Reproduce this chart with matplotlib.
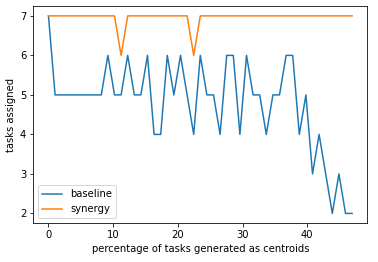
import numpy as np
import matplotlib
matplotlib.use("Agg")
import matplotlib.pyplot as plt

# x positions: percentage of tasks generated as centroids
pct = np.arange(47) * 100 / 98

baseline = [7, 5, 5, 5, 5, 5, 5, 5, 5, 6, 5, 5, 6, 5, 5, 6, 4, 4, 6, 5,
            6, 5, 4, 6, 5, 5, 4, 6, 6, 4, 6, 5, 5, 4, 5, 5, 6, 6, 4, 5,
            3, 4, 3, 2, 3, 2, 2]
synergy = [7, 7, 7, 7, 7, 7, 7, 7, 7, 7, 7, 6, 7, 7, 7, 7, 7, 7, 7, 7,
           7, 7, 6, 7, 7, 7, 7, 7, 7, 7, 7, 7, 7, 7, 7, 7, 7, 7, 7, 7,
           7, 7, 7, 7, 7, 7, 7]

fig = plt.figure(figsize=(378 / 72, 262 / 72), dpi=72)
ax = fig.add_axes([33.3 / 378, (262 - 223.3) / 262, (367.3 - 33.3) / 378, (223.3 - 6) / 262])
ax.plot(pct, baseline, label="baseline")
ax.plot(pct, synergy, label="synergy")
ax.set_xlabel("percentage of tasks generated as centroids")
ax.set_ylabel("tasks assigned")
ax.set_xticks([0, 10, 20, 30, 40])
ax.set_yticks([2, 3, 4, 5, 6, 7])
ax.legend(loc="lower left")
fig.savefig("out.png", dpi=72)
